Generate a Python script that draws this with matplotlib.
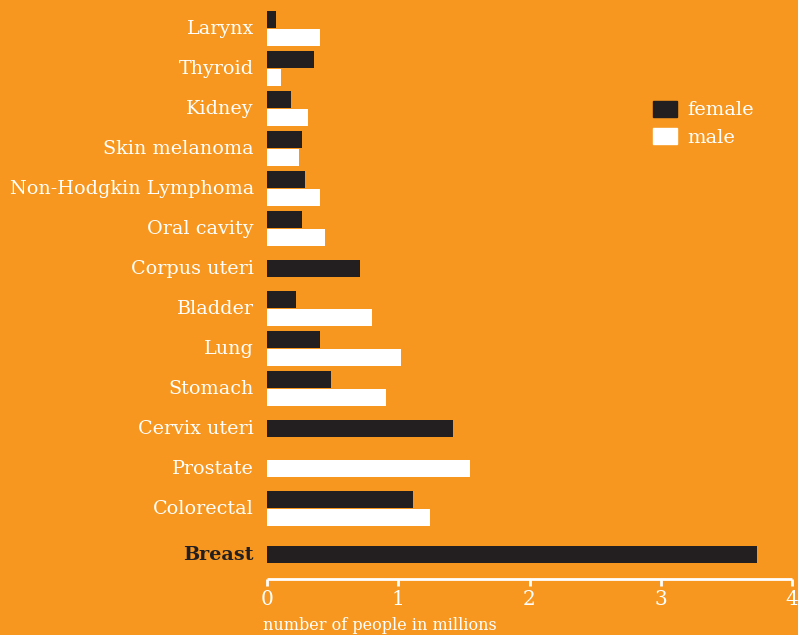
import matplotlib.pyplot as plt
import numpy as np

# values (millions of people)
sites = ["Larynx", "Thyroid", "Kidney", "Skin melanoma", "Non-Hodgkin Lymphoma",
         "Oral cavity", "Corpus uteri", "Bladder", "Lung", "Stomach",
         "Cervix uteri", "Prostate", "Colorectal", "Breast"]
female = [0.07, 0.36, 0.18, 0.27, 0.29, 0.27, 0.71, 0.22, 0.40, 0.49,
          1.42, np.nan, 1.11, 3.73]
male = [0.40, 0.11, 0.31, 0.24, 0.40, 0.44, np.nan, 0.80, 1.02, 0.91,
        np.nan, 1.55, 1.24, np.nan]
xticks = [0, 1, 2, 3, 4]

ORANGE = "#F7971F"
DARK = "#231F20"
WHITE = "#FFFFFF"
FONT = "DejaVu Serif"

plt.rcParams['font.family'] = FONT

pos = np.arange(len(sites), dtype=float)
pos[-1] += 0.15  # extra gap before Breast
bh = 0.43
off = 0.225

fig = plt.figure(figsize=(7.98, 6.35), dpi=100, facecolor=ORANGE)
ax = fig.add_axes([267 / 798, 56 / 635, 525 / 798, 579 / 635])
ax.set_facecolor(ORANGE)

for p, f, m in zip(pos, female, male):
    both = not (np.isnan(f) or np.isnan(m))
    if not np.isnan(f):
        ax.barh(p - off if both else p, f, height=bh, color=DARK, linewidth=0)
    if not np.isnan(m):
        ax.barh(p + off if both else p, m, height=bh, color=WHITE, linewidth=0)

ax.set_xlim(0, 4)
ax.set_ylim(13.7625, -0.7125)
ax.set_yticks(pos)
ax.set_yticklabels(sites, fontsize=13.8, color=WHITE, va="center")
ax.get_yticklabels()[-1].set_fontweight("bold")
ax.get_yticklabels()[-1].set_color(DARK)
ax.tick_params(axis="y", length=0, pad=9.5)

ax.set_xticks(xticks)
ax.set_xticklabels([str(t) for t in xticks], fontsize=14.5, color=WHITE)
ax.tick_params(axis="x", direction="out", length=5, width=2, color=WHITE, pad=3)

for s in ["top", "right", "left"]:
    ax.spines[s].set_visible(False)
ax.spines["bottom"].set_color(WHITE)
ax.spines["bottom"].set_linewidth(2)
ax.spines["bottom"].set_capstyle("butt")

fig.text(263 / 798, 1 - 625 / 635, "number of people in millions",
         color=WHITE, fontsize=11.5, va="center", ha="left")

handles = [plt.Rectangle((0, 0), 1, 1, color=DARK),
           plt.Rectangle((0, 0), 1, 1, color=WHITE)]
leg = fig.legend(handles, ["female", "male"], loc="upper left",
                 bbox_to_anchor=(653 / 798, 1 - 101 / 635), frameon=False,
                 fontsize=14, handlelength=1.25, handleheight=0.85,
                 handletextpad=0.5, labelspacing=0.45, borderpad=0,
                 borderaxespad=0)
for t in leg.get_texts():
    t.set_color(WHITE)

fig.savefig("out.png", dpi=100, facecolor=ORANGE)
